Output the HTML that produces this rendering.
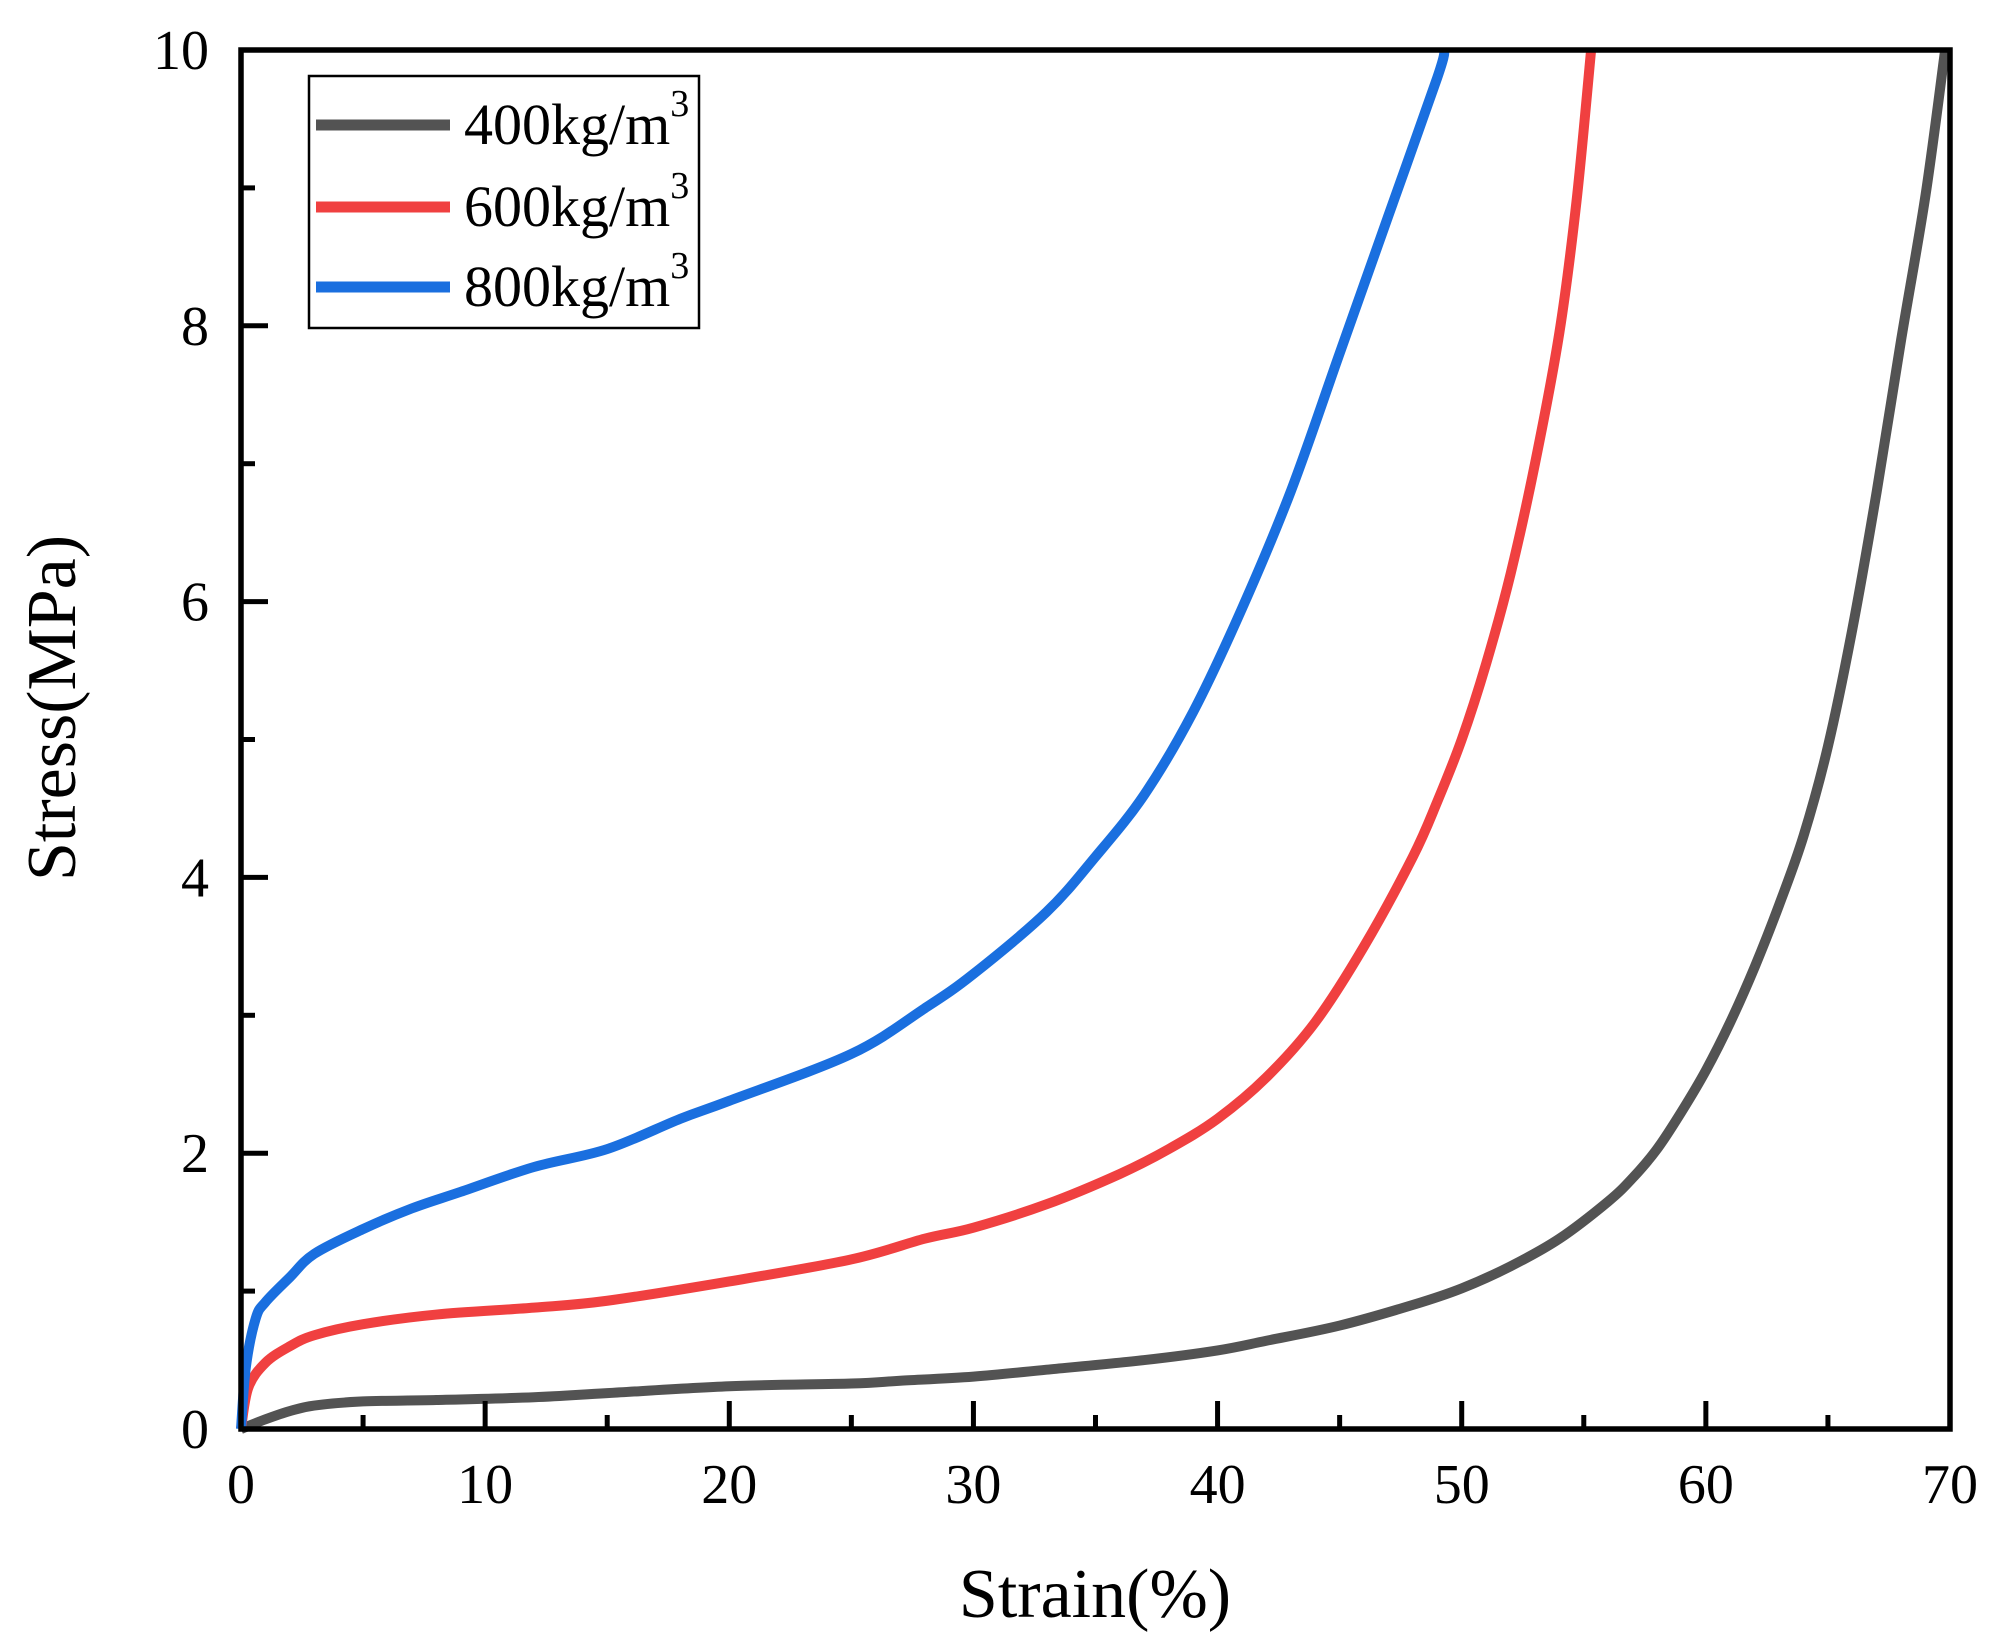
<!DOCTYPE html>
<html><head><meta charset="utf-8"><style>
html,body{margin:0;padding:0;background:#fff;}
svg{display:block;}
text{font-family:"Liberation Serif",serif;fill:#000;}
</style></head><body>
<svg id="s" width="2001" height="1652" viewBox="0 0 2001 1652" xmlns="http://www.w3.org/2000/svg">
<rect width="2001" height="1652" fill="#fff"/>
<g id="curves" fill="none" stroke-linejoin="round" stroke-linecap="butt" stroke-width="10"></g>
<rect x="241" y="50" width="1709" height="1379" fill="none" stroke="#000" stroke-width="5.5"/>
<g id="ticks" stroke="#000" stroke-width="5"></g>
<g id="labels" font-size="56"></g>
<text x="1095" y="1617" font-size="70" text-anchor="middle">Strain(%)</text>
<text transform="translate(75,708) rotate(-90)" font-size="70" text-anchor="middle">Stress(MPa)</text>
<rect x="309" y="76" width="390" height="252" fill="#fff" stroke="#000" stroke-width="2.5"/>
<line x1="316" y1="125" x2="450" y2="125" stroke="#535353" stroke-width="11"/>
<line x1="316" y1="207" x2="450" y2="207" stroke="#F04040" stroke-width="11"/>
<line x1="316" y1="287" x2="450" y2="287" stroke="#1A6FDF" stroke-width="11"/>
<text x="464" y="144" font-size="58">400kg/m<tspan font-size="38" dy="-28">3</tspan></text>
<text x="464" y="226" font-size="58">600kg/m<tspan font-size="38" dy="-28">3</tspan></text>
<text x="464" y="306" font-size="58">800kg/m<tspan font-size="38" dy="-28">3</tspan></text>
</svg>
<script>
var X=function(v){return 241+v*1709/70;}, Y=function(v){return 1429-v*137.9;};
var NS="http://www.w3.org/2000/svg";
function el(p,t,a){var e=document.createElementNS(NS,t);for(var k in a)e.setAttribute(k,a[k]);p.appendChild(e);return e;}
var tk=document.getElementById('ticks'), lb=document.getElementById('labels');
for(var i=0;i<=70;i+=5){var L=(i%10==0)?28:14;if(i>0&&i<70)el(tk,'line',{x1:X(i),y1:1429,x2:X(i),y2:1429-L});
 if(i%10==0){var t=el(lb,'text',{x:X(i),y:1503,'text-anchor':'middle'});t.textContent=i;}}
for(var j=0;j<=10;j++){var L=(j%2==0)?27:14;if(j>0&&j<10)el(tk,'line',{x1:241,y1:Y(j),x2:241+L,y2:Y(j)});
 if(j%2==0){var t=el(lb,'text',{x:209,y:Y(j)+19,'text-anchor':'end'});t.textContent=j;}}
var data={
"#535353":[[0,0],[1,0.07],[2,0.13],[3,0.17],[5,0.2],[8,0.21],[12,0.23],[15,0.26],[20,0.31],[25,0.33],[27,0.35],[30,0.38],[33,0.43],[37,0.5],[40,0.57],[42,0.64],[45,0.75],[48,0.9],[50,1.02],[52,1.18],[54,1.38],[56,1.65],[57,1.82],[58,2.03],[59,2.3],[60,2.6],[61,2.95],[62,3.35],[63,3.8],[64,4.3],[65,4.95],[66,5.8],[67,6.8],[68,7.9],[69,8.95],[69.8,10]],
"#F04040":[[0,0],[0.3,0.3],[1,0.48],[2,0.6],[3,0.68],[5,0.76],[8,0.83],[12,0.88],[15,0.93],[20,1.07],[25,1.23],[28,1.38],[30,1.46],[33,1.63],[36,1.85],[38,2.03],[40,2.25],[42,2.55],[44,2.95],[46,3.5],[48,4.15],[49,4.55],[50,5.0],[51,5.55],[52,6.2],[53,7.0],[54,7.95],[54.7,8.9],[55.3,10]],
"#1A6FDF":[[0,0],[0.2,0.45],[0.6,0.8],[1,0.92],[2,1.1],[3,1.27],[5,1.45],[7,1.6],[9,1.72],[12,1.9],[15,2.03],[18,2.25],[20,2.38],[25,2.72],[28,3.05],[30,3.3],[33,3.75],[35,4.15],[37,4.6],[39,5.2],[41,5.95],[43,6.8],[45,7.8],[47,8.8],[49,9.8],[49.3,10]]};
var g=document.getElementById('curves');
for(var c in data){var p=data[c].map(function(q){return [X(q[0]),Y(q[1])];});
 var d="M"+p[0][0]+","+p[0][1];
 for(var k=0;k<p.length-1;k++){var p0=p[k-1]||p[k],p1=p[k],p2=p[k+1],p3=p[k+2]||p2;
  d+=" C"+(p1[0]+(p2[0]-p0[0])/6)+","+(p1[1]+(p2[1]-p0[1])/6)+" "+(p2[0]-(p3[0]-p1[0])/6)+","+(p2[1]-(p3[1]-p1[1])/6)+" "+p2[0]+","+p2[1];}
 el(g,'path',{d:d,stroke:c});}
</script>
</body></html>
